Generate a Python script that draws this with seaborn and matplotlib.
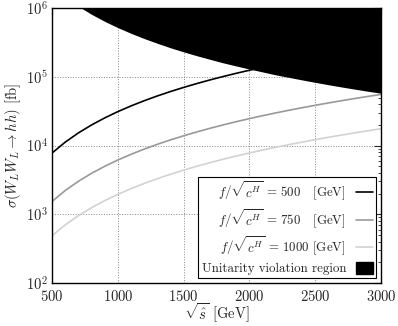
import numpy as np
import pandas as pd
import matplotlib
matplotlib.use("Agg")
import matplotlib.pyplot as plt
import seaborn as sns
from matplotlib.lines import Line2D
from matplotlib.patches import Patch

sns.set_style("white")
plt.rcParams['font.family'] = 'serif'
plt.rcParams['font.serif'] = ['cmr10', 'DejaVu Serif']
plt.rcParams['mathtext.fontset'] = 'cm'
plt.rcParams['axes.formatter.use_mathtext'] = True

# sqrt(s) in GeV
sqrt_s = [500, 600, 700, 800, 900, 1000, 1100, 1200, 1300, 1400, 1500, 1600, 1700,
          1800, 1900, 2000, 2100, 2200, 2300, 2400, 2500, 2600, 2700, 2800, 2900, 3000]

# cross sections in fb
sigma_500 = [7800, 11230, 15290, 19970, 25270, 31200, 37750, 44930, 52730, 61150, 70200,
             79870, 90170, 101090, 112630, 124800, 137590, 151010, 165050, 179710, 195000,
             210910, 227450, 244610, 262390, 280800]
sigma_750 = [1540, 2220, 3020, 3950, 4990, 6170, 7460, 8880, 10420, 12090, 13870,
             15780, 17820, 19980, 22260, 24660, 27190, 29840, 32620, 35520, 38540,
             41680, 44950, 48340, 51860, 55490]
sigma_1000 = [488, 702, 956, 1248, 1580, 1950, 2360, 2808, 3296, 3822, 4388,
              4992, 5636, 6318, 7040, 7800, 8600, 9438, 10316, 11232, 12188,
              13182, 14216, 15288, 16400, 17550]
# lower edge of unitarity violation region
unitarity = [2.08e6, 1.444e6, 1.061e6, 8.13e5, 6.42e5, 5.2e5, 4.30e5, 3.61e5, 3.08e5, 2.65e5, 2.31e5,
             2.03e5, 1.80e5, 1.60e5, 1.44e5, 1.30e5, 1.18e5, 1.07e5, 9.83e4, 9.03e4, 8.32e4,
             7.69e4, 7.13e4, 6.63e4, 6.18e4, 5.78e4]

labels = [r"$f/\sqrt{c^H}\,=\,500$   [GeV]",
          r"$f/\sqrt{c^H}\,=\,750$   [GeV]",
          r"$f/\sqrt{c^H}\,=\,1000$ [GeV]"]
colors = ["black", "#999999", "#d2d2d2"]

df = pd.concat([
    pd.DataFrame({"sqrt_s": sqrt_s, "sigma": s, "f": lab})
    for s, lab in zip([sigma_500, sigma_750, sigma_1000], labels)
])

fig = plt.figure(figsize=(3.98, 3.26), dpi=100)
ax = fig.add_axes([0.131, 0.132, 0.826, 0.843])

sns.lineplot(data=df, x="sqrt_s", y="sigma", hue="f", palette=colors,
             linewidth=1.2, legend=False, ax=ax, zorder=2)
ax.fill_between(sqrt_s, unitarity, 1e7, color="black", lw=0, zorder=3)

ax.set_yscale("log")
ax.set_xlim(500, 3000)
ax.set_ylim(1e2, 1e6)
ax.set_xticks([500, 1000, 1500, 2000, 2500, 3000])
ax.grid(True, which="major", color="#888888", linestyle=":", linewidth=0.7)
ax.tick_params(which="both", direction="in", top=True, right=True, labelsize=10.5, pad=3)
ax.tick_params(axis="x", pad=4.5)
ax.tick_params(which="major", length=5)
ax.tick_params(which="minor", length=2.5)
for sp in ax.spines.values():
    sp.set_color("black")
    sp.set_linewidth(1.0)

ax.set_xlabel(r"$\sqrt{\hat{s}}$ [GeV]", fontsize=10.5, labelpad=-2)
ax.set_ylabel(r"$\sigma(W_L W_L \to hh)$ [fb]", fontsize=10.5, labelpad=2)

handles = [Line2D([], [], color=c, lw=1.2) for c in colors]
handles.append(Patch(facecolor="black", edgecolor="black"))
leg = ax.legend(handles, labels + ["Unitarity violation region"], loc="lower right",
                markerfirst=False, fontsize=9.3, frameon=True, fancybox=False,
                framealpha=1, edgecolor="black", handlelength=1.3,
                handleheight=1.1, labelspacing=0.3, borderaxespad=0.35,
                borderpad=0.25)
leg.get_frame().set_linewidth(0.8)

fig.savefig("out.png", dpi=100)
